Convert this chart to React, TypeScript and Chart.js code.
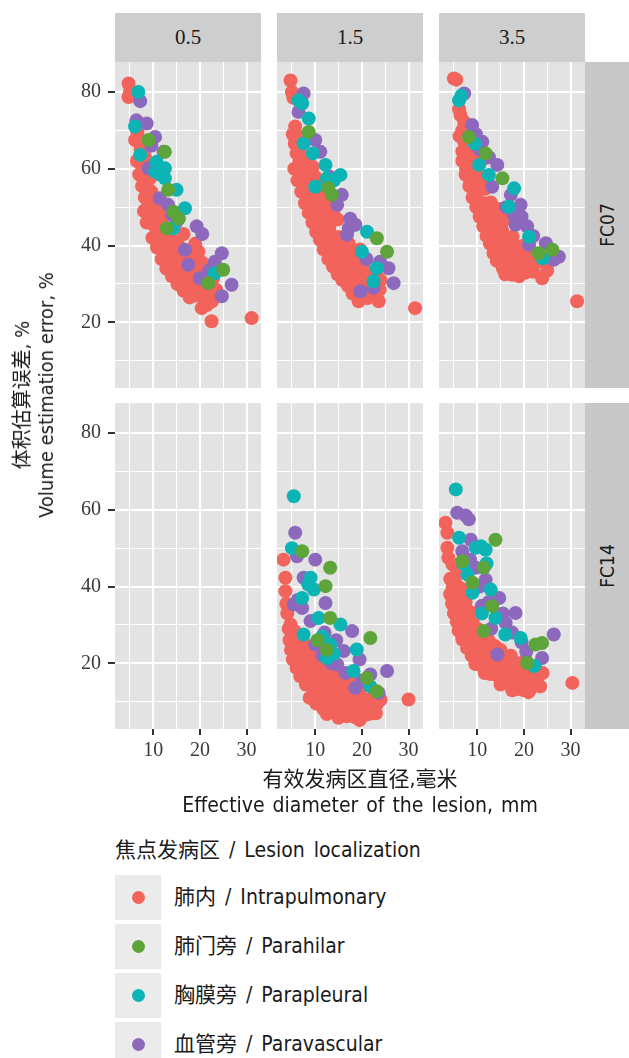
import React, { useEffect, useRef } from 'react';
import { Chart, registerables } from 'chart.js';

Chart.register(...registerables);

// ---------- labels / categories ----------
const CATEGORY_LABELS = ['肺内 / Intrapulmonary', '肺门旁 / Parahilar', '胸膜旁 / Parapleural', '血管旁 / Paravascular'];
const COLUMN_LABELS = ['0.5', '1.5', '3.5'];
const ROW_LABELS = ['FC07', 'FC14'];
const LEGEND_TITLE = '焦点发病区 / Lesion localization';
const X_TITLE = ['有效发病区直径,毫米', 'Effective diameter of the lesion, mm'];
const Y_TITLE = ['体积估算误差, %', 'Volume estimation error, %'];

// ---------- ticks ----------
const X_TICKS = [5, 10, 15, 20, 25, 30];
const X_LABELED = [10, 20, 30];
const Y_TICKS = [10, 20, 30, 40, 50, 60, 70, 80];
const Y_LABELED = [20, 40, 60, 80];
const X_MIN = 1.8;
const X_MAX = 33.1;
const Y_MIN = 2.9;
const Y_MAX = 87.8;

// ---------- data: FC07, 0.5 ----------
const FC07_05_INTRA = [
  [4.7, 82.2], [5.0, 80.0], [4.7, 78.7], [5.5, 79.5], [6.4, 71.8], [6.1, 67.5], [7.2, 67.5], [6.6, 69.5],
  [6.5, 62], [7.5, 61], [8.6, 61.5], [7, 58.5], [8.2, 58], [9.3, 57.5], [7.6, 55.5], [8.8, 55], [9.6, 54], [8.2, 63.1],
  [8.2, 52.5], [9.4, 52], [10.6, 51.5], [8.8, 50], [10, 49.5], [11.2, 49], [9.3, 47.5], [10.5, 47], [11.8, 46.5],
  [9.9, 45.5], [11.2, 45], [12.6, 44.5],
  [10.8, 43.5], [12, 43], [13.3, 42.8], [11.3, 41.5], [12.6, 41], [14, 40.8], [15.2, 41], [12, 39.5], [13.4, 39],
  [14.8, 38.8], [16.2, 39], [13, 37.5], [14.4, 37], [15.8, 36.8], [17.2, 37], [18.5, 37.5], [19.7, 38.4],
  [14.5, 35], [16, 34.5], [17.5, 34], [18.9, 34.5], [15.5, 33], [17, 32.5], [18.5, 32], [20, 32.5], [16.8, 31],
  [18.3, 30.5], [19.8, 30], [21.2, 31], [18, 29], [19.5, 28.5], [21, 28], [22.4, 29],
  [19, 27], [20.5, 26.5], [21.8, 26], [20.4, 23.7], [21.5, 24.5], [22.6, 25.5], [22.5, 20.3], [31.1, 21.1],
  [7.3, 65], [8, 49], [8.6, 46], [9.8, 42], [10.8, 39.5], [11.8, 36.5], [12.8, 34], [14, 32], [15.2, 30],
  [16.5, 28.2], [17.8, 26.5], [22.8, 31.5], [23.5, 28.5], [22.8, 27], [16.5, 43], [20.5, 35.5], [19, 40.5]
];
const FC07_05_HILAR = [[9, 67.5], [12.5, 64.4], [13.2, 54.5], [14.3, 48.8], [12.9, 44.5], [25, 33.7], [21.8, 30.2], [15.5, 47]];
const FC07_05_PLEURAL = [
  [6.8, 80], [6.1, 71], [7.2, 63.6], [10.7, 61.8], [12.5, 60.1], [10.4, 59.2], [12.5, 57.5], [15, 54.5],
  [16.8, 49.7], [14.3, 44.5], [23.2, 32.8], [11.5, 58.5]
];
const FC07_05_VASC = [
  [7.2, 77.6], [6.4, 72.6], [8.6, 71.8], [10.4, 68.3], [12.2, 64.4], [9, 60.1], [11.4, 52.3], [13.2, 50.6],
  [15, 46.2], [19.3, 45], [16.8, 38.9], [17.5, 35], [24.7, 38], [23.2, 35.8], [20, 31.5], [26.8, 29.8],
  [24.7, 26.8], [9.6, 66], [14, 48], [20.5, 43], [22, 33.5]
];

// ---------- data: FC07, 1.5 ----------
const FC07_15_INTRA = [
  [4.7, 83], [5, 80], [5.3, 78.5], [5.7, 71], [5.2, 69], [6.3, 68.5], [5.6, 66.5], [6.8, 66], [6, 64], [7.2, 63.5],
  [8.2, 63], [6.6, 62],
  [7, 60.5], [8.3, 60], [9.5, 60.5], [7.6, 58], [8.8, 57.5], [10, 57.8], [8.2, 55.5], [9.4, 55], [10.8, 55.5],
  [8.8, 53.5], [10.2, 53], [11.5, 53.5],
  [9.4, 51.5], [10.8, 51], [12.2, 51.5], [10, 49], [11.4, 48.5], [12.8, 48.8], [14, 49.5], [10.6, 46.5], [12, 46],
  [13.4, 46.2], [14.8, 46.8], [11.5, 44.5], [13, 44],
  [12, 42.5], [13.5, 42], [15, 42.2], [12.7, 40.3], [14.2, 40], [15.7, 40], [17.2, 40.5], [13.6, 38.3], [15.2, 38],
  [16.7, 37.8], [18.2, 38.2], [19.6, 39], [14.6, 36.3], [16.2, 36], [17.8, 35.8], [19.3, 36.2],
  [16, 34], [17.5, 33.8], [19, 33.6], [20.5, 34], [17, 32], [18.5, 31.6], [20, 31.5], [21.5, 32], [23, 32.5],
  [18, 30], [19.5, 29.5], [21, 29.5], [22.5, 30], [24, 31], [19, 28], [20.7, 27.6], [22.3, 27.8], [23.8, 28.5],
  [19.3, 25.5], [23.6, 25.5], [21.2, 26.3], [31.4, 23.7],
  [5.5, 60], [6.2, 57], [7, 54], [7.8, 51], [8.6, 48.5], [9.4, 46], [10.2, 43.5], [11, 41.5], [11.8, 39],
  [12.8, 36.5], [13.8, 34.5], [14.8, 32.5], [15.8, 31], [17, 29.5], [18, 27.5]
];
const FC07_15_HILAR = [[8.6, 69.6], [13.6, 53.2], [23.2, 41.9], [25.4, 38.4], [12.8, 55]];
const FC07_15_PLEURAL = [
  [6.4, 77.8], [7.2, 77], [8.6, 73.1], [7.5, 66.6], [12.2, 61], [15.4, 58.4], [12.5, 57.5], [10, 55.3], [14, 57],
  [21.1, 43.6], [20, 38.4], [23.2, 34.1], [22.5, 30.7], [9.5, 64]
];
const FC07_15_VASC = [
  [7.5, 79.6], [6.4, 74.8], [10, 67.5], [11.1, 64.4], [15.7, 53.2], [14.7, 50.6], [17.2, 44.5], [18.6, 45.4],
  [16.8, 42.8], [23.9, 35.8], [25.7, 34.1], [26.8, 30.2], [19.7, 28.1], [13, 58], [17.5, 47], [21, 36.5], [22.5, 29]
];

// ---------- data: FC07, 3.5 ----------
const FC07_35_INTRA = [
  [5, 83.5], [5.5, 83.2], [6.4, 74], [7.2, 72.2], [6.1, 75.5], [6.8, 70], [7.2, 67], [6.2, 68.5],
  [7.9, 69.5], [8.2, 65], [6.8, 64.5], [9.1, 63.5], [8.2, 61.8], [11.1, 62.3],
  [7.6, 60], [8.8, 59.5], [10, 59.8], [8.3, 57.5], [9.6, 57], [10.9, 57.2], [9, 55], [10.3, 54.5], [11.7, 54.8], [9.8, 53],
  [10.2, 51.5], [11.5, 51], [12.9, 51.2], [10.8, 49], [12.2, 48.6], [13.6, 48.8], [14.8, 49.5], [11.5, 46.7],
  [12.9, 46.2], [14.3, 46.2], [15.7, 46.6], [12.4, 44.3], [13.8, 44], [15.3, 44],
  [13.2, 42], [14.7, 41.8], [16.2, 41.8], [17.6, 42.3], [14, 39.8], [15.5, 39.5], [17, 39.4], [18.5, 39.6], [20, 40],
  [15, 37.5], [16.6, 37.2], [18.1, 37], [19.6, 37.2], [21, 37.6], [22.3, 38],
  [16.3, 35.2], [17.8, 35], [19.3, 34.8], [20.8, 35], [22.3, 35.3], [23.7, 36], [17.5, 32.4], [19, 32], [20.5, 33],
  [22, 33.2], [23.9, 31.5], [25, 33.5], [31.4, 25.5],
  [6.8, 62], [7.5, 58.5], [8.3, 55.5], [9, 52.5], [9.8, 50], [10.5, 47.5], [11.3, 45], [12, 42.5], [12.7, 40.5],
  [13.5, 38], [14.2, 36], [15.5, 34], [16, 32.5]
];
const FC07_35_HILAR = [[8.2, 68.3], [15.4, 57.5], [23.2, 38], [26.1, 38.9], [11.8, 64]];
const FC07_35_PLEURAL = [
  [6.1, 77.8], [6.6, 79], [10.4, 61], [12.5, 58.4], [17.9, 54.9], [16.8, 50.1], [21.1, 42.3], [24, 36.7], [9.5, 66.5]
];
const FC07_35_VASC = [
  [7.2, 79.6], [8.9, 71.4], [11.1, 67], [9.7, 69], [10.5, 65], [14.3, 61], [13.2, 55.3], [17.2, 53.2], [19.3, 50.6],
  [18.2, 45.4], [20.7, 45], [21.1, 40.2], [24.7, 40.6], [27.5, 37.1], [26.4, 36.3], [12.5, 63], [16.2, 50],
  [19.5, 47.5], [22, 42.5], [17.8, 48]
];

// ---------- data: FC14, 1.5 ----------
const FC14_15_INTRA = [
  [3.2, 47], [3.6, 42.3], [3.6, 38.8], [4.7, 30.1], [5, 27.5],
  [4.5, 26], [5.6, 25.5], [6.8, 25], [4.8, 23.5], [6, 23], [7.2, 22.5], [8.4, 22.2], [5.2, 21], [6.4, 20.6],
  [7.6, 20.3], [8.8, 20], [9.8, 20.8],
  [6, 18.8], [7.2, 18.5], [8.4, 18.2], [9.6, 18], [10.8, 17.8], [6.8, 16.6], [8, 16.3], [9.2, 16], [10.4, 15.8],
  [11.6, 15.6], [12.8, 15.5], [14, 15.8], [8, 14.5], [9.2, 14.2], [10.4, 14], [11.6, 13.8], [12.8, 13.6], [14, 13.5],
  [15.3, 13.6], [16.6, 14], [17.5, 15],
  [9.8, 12.4], [11, 12], [12.2, 11.8], [13.4, 11.5], [14.6, 11.4], [15.8, 11.4], [17, 11.6], [18.2, 12], [19.4, 12.5],
  [11.6, 10.2], [12.8, 9.8], [14, 9.5], [15.2, 9.3], [16.4, 9.4], [17.6, 9.6], [18.8, 9.8], [20, 10], [21.2, 10.5],
  [22.4, 11.2], [13.6, 7.8], [14.8, 7.4], [16, 7.2], [17.2, 7.3], [18.4, 7.6], [19.6, 7.9], [20.8, 8.2], [22, 8.7],
  [23.2, 9.4], [16.8, 6.2], [18.5, 6], [20.5, 6.5], [30, 10.6],
  [4, 33], [4.3, 29], [5.5, 28.5], [6.5, 27], [7.8, 25], [9, 23.5], [10.5, 22], [3.8, 35.5], [11, 19.5], [12.5, 18],
  [14, 17.5], [15.5, 16], [8.8, 11], [10.2, 9.5], [11.8, 8], [12.5, 6.8], [21.5, 6.8], [23, 7], [24, 10.5],
  [19.5, 5.2], [15, 5.8]
];
const FC14_15_HILAR = [
  [7.2, 49.2], [13.2, 44.9], [12.2, 40.1], [13.2, 31.8], [21.8, 26.6], [21.1, 16.2], [23.2, 12.7], [10.5, 26], [12.5, 23.5]
];
const FC14_15_PLEURAL = [
  [5.4, 63.5], [5, 50], [9, 42.3], [9.7, 39.2], [7.2, 37], [8.5, 40.5], [10.7, 31.8], [15.4, 30.1], [7.5, 27.5],
  [13.2, 24.9], [18.9, 23.6], [12.5, 21.4], [18.2, 18], [21.8, 14], [11.5, 27], [14, 22.5]
];
const FC14_15_VASC = [
  [5.7, 54], [6.1, 47.9], [10, 47], [7.5, 42.3], [5.4, 35.3], [7.2, 34.4], [6.2, 36.5], [12.2, 35.7], [9, 31],
  [17.9, 28.4], [10, 24.9], [16.1, 23.2], [14.7, 19.7], [25.4, 18], [21.8, 17.1], [18.6, 13.6], [23.6, 12.3],
  [12, 28], [14.5, 26], [11.5, 22], [19.5, 21], [16.5, 17.5], [13.5, 20], [20, 15.5]
];

// ---------- data: FC14, 3.5 ----------
const FC14_35_INTRA = [
  [3.2, 56.6], [3.6, 54], [3.6, 50.1], [4.7, 45.7], [4.7, 39.7],
  [4.2, 38], [5.4, 37.5], [6.4, 37], [4.6, 35.5], [5.8, 35], [7, 34.6], [5, 33], [6.2, 32.5], [7.4, 32.2], [8.2, 33.5],
  [5.6, 30.8], [6.8, 30.4], [8, 30], [6, 28.5], [7.2, 28], [8.4, 27.8], [9.6, 27.5], [6.8, 26.2], [8, 25.8],
  [9.2, 25.5], [10.4, 25.3], [11.6, 25.5], [7.8, 24], [9, 23.6], [10.2, 23.3], [11.4, 23.2], [12.6, 23.4],
  [8.8, 22], [10, 21.5], [11.2, 21.2], [12.4, 21], [13.6, 21], [14.8, 21.2], [16, 21.5], [17.2, 22], [9.6, 19.8],
  [10.8, 19.4], [12, 19.1], [13.2, 18.9], [14.4, 18.8], [15.6, 18.9], [16.8, 19.2], [18, 19.6], [19.2, 20],
  [20.4, 20.8], [11.6, 17.5], [12.8, 17.2], [14, 17], [15.2, 16.8], [16.4, 16.8], [17.6, 17], [18.8, 17.4],
  [20, 17.8], [21.2, 18.4], [22.4, 19],
  [16, 15.2], [17.2, 14.8], [18.4, 14.6], [19.6, 14.6], [20.8, 15], [22, 15.5], [23, 16.5], [18.5, 13.3], [20, 13],
  [21.5, 13.5], [30.4, 14.9],
  [4.2, 42], [5.5, 40.5], [6.5, 39.5], [3.8, 47.5], [5.5, 43], [7.5, 36], [9, 31], [10, 29], [11, 27], [12.5, 25.8],
  [13.8, 24.5], [15, 23.5], [24, 17.5], [23.5, 14], [21, 12.5], [17.5, 13], [15, 14.5], [9.5, 33]
];
const FC14_35_HILAR = [
  [13.9, 52.2], [6.8, 46.6], [11.4, 44.9], [13.2, 34.9], [11.4, 28.4], [22.5, 24.9], [23.9, 25.3], [20.7, 20.1], [9, 41]
];
const FC14_35_PLEURAL = [
  [5.4, 65.3], [6.1, 52.7], [9.7, 50.1], [11.8, 49.6], [10.8, 50.5], [7.9, 43.1], [9, 38.4], [12.9, 39.2],
  [13.9, 31.8], [19.3, 26.6], [22.2, 19.3], [7, 46], [11, 33], [16, 27.5], [12, 46]
];
const FC14_35_VASC = [
  [5.7, 59.2], [8.2, 57.5], [7.5, 58.5], [8.6, 52.2], [6.8, 49.2], [9.7, 44.9], [11.8, 41.8], [14.7, 37],
  [18.2, 33.1], [16.1, 30.5], [26.4, 27.5], [23.9, 21.4], [14.3, 22.3], [10.5, 40], [12.5, 36], [15.5, 33],
  [17.5, 28], [19.5, 25.5], [13, 29], [20.5, 23], [8.5, 47], [11, 35]
];

// ---------- styling / layout ----------
const CATEGORY_COLORS = ['#F2635B', '#5DA43B', '#0CB4B6', '#8D69BD'];
const DRAW_ORDER = [4, 1, 2, 3];
const COL_LEFT = [115, 277, 439];
const ROW_TOP = [62, 403];
const PANEL_W = 146;
const PANEL_H = 326;
const Y_AXIS_W = 60;
const X_AXIS_H = 40;
const POINT_R = 7;
const PANEL_BG = '#E3E3E3';
const STRIP_BG = '#CECECE';
const STRIP_BG_RIGHT = '#C8C8C8';
const SERIF = "'Liberation Serif', 'DejaVu Serif', serif";
const NARROW = "'Liberation Sans Narrow', 'DejaVu Sans Condensed', 'Noto Sans CJK SC', sans-serif";

type Pt = number[];

const panelBgPlugin = {
  id: 'panelBg',
  beforeDraw(chart: any) {
    const { ctx, chartArea } = chart;
    ctx.save();
    ctx.fillStyle = PANEL_BG;
    ctx.fillRect(chartArea.left, chartArea.top, chartArea.right - chartArea.left, chartArea.bottom - chartArea.top);
    ctx.restore();
  }
};

function zeroPadding(s: any) {
  s.paddingTop = 0;
  s.paddingBottom = 0;
  s.paddingLeft = 0;
  s.paddingRight = 0;
}

function Panel({ left, top, showY, showX, series }: { left: number; top: number; showY: boolean; showX: boolean; series: Pt[][] }) {
  const ref = useRef<HTMLCanvasElement>(null);
  const padL = showY ? Y_AXIS_W : 0;
  const padB = showX ? X_AXIS_H : 0;
  const w = PANEL_W + padL;
  const h = PANEL_H + padB;

  useEffect(() => {
    const tickFont = { family: SERIF, size: 20 };
    const chart = new Chart(ref.current as HTMLCanvasElement, {
      type: 'scatter',
      data: {
        datasets: series.map((pts, i) => ({
          label: CATEGORY_LABELS[i],
          data: pts.map(([x, y]) => ({ x, y })),
          backgroundColor: CATEGORY_COLORS[i],
          borderWidth: 0,
          pointRadius: POINT_R,
          pointHoverRadius: POINT_R,
          order: DRAW_ORDER[i],
          clip: false
        }))
      },
      options: {
        responsive: false,
        animation: false,
        events: [],
        layout: { padding: 0, autoPadding: false },
        plugins: { legend: { display: false }, tooltip: { enabled: false } },
        scales: {
          x: {
            type: 'linear',
            min: X_MIN,
            max: X_MAX,
            afterBuildTicks: (s: any) => { s.ticks = X_TICKS.map((v) => ({ value: v })); },
            afterFit: (s: any) => { s.height = showX ? X_AXIS_H : 0; zeroPadding(s); },
            border: { display: false },
            grid: {
              color: '#FFFFFF',
              lineWidth: (c: any) => (X_LABELED.includes(c.tick?.value) ? 2 : 1),
              drawTicks: showX,
              tickLength: 6,
              tickWidth: 2,
              tickColor: (c: any) => (X_LABELED.includes(c.tick?.value) ? '#333333' : 'rgba(0,0,0,0)')
            },
            ticks: {
              display: showX,
              autoSkip: false,
              maxRotation: 0,
              padding: 4,
              font: tickFont,
              color: '#3A3A3A',
              callback: (v: any) => (X_LABELED.includes(v) ? String(v) : '')
            }
          },
          y: {
            type: 'linear',
            min: Y_MIN,
            max: Y_MAX,
            afterBuildTicks: (s: any) => { s.ticks = Y_TICKS.map((v) => ({ value: v })); },
            afterFit: (s: any) => { s.width = showY ? Y_AXIS_W : 0; zeroPadding(s); },
            border: { display: false },
            grid: {
              color: '#FFFFFF',
              lineWidth: (c: any) => (Y_LABELED.includes(c.tick?.value) ? 2 : 1),
              drawTicks: showY,
              tickLength: 7,
              tickWidth: 2,
              tickColor: (c: any) => (Y_LABELED.includes(c.tick?.value) ? '#333333' : 'rgba(0,0,0,0)')
            },
            ticks: {
              display: showY,
              autoSkip: false,
              padding: 7,
              font: tickFont,
              color: '#3A3A3A',
              callback: (v: any) => (Y_LABELED.includes(v) ? String(v) : '')
            }
          }
        }
      } as any,
      plugins: [panelBgPlugin]
    });
    return () => chart.destroy();
  }, []);

  return (
    <canvas
      ref={ref}
      width={w}
      height={h}
      style={{ position: 'absolute', left: left - padL, top, width: w, height: h }}
    />
  );
}

const PANELS: { row: number; col: number; series: Pt[][] }[] = [
  { row: 0, col: 0, series: [FC07_05_INTRA, FC07_05_HILAR, FC07_05_PLEURAL, FC07_05_VASC] },
  { row: 0, col: 1, series: [FC07_15_INTRA, FC07_15_HILAR, FC07_15_PLEURAL, FC07_15_VASC] },
  { row: 0, col: 2, series: [FC07_35_INTRA, FC07_35_HILAR, FC07_35_PLEURAL, FC07_35_VASC] },
  { row: 1, col: 0, series: [[], [], [], []] },
  { row: 1, col: 1, series: [FC14_15_INTRA, FC14_15_HILAR, FC14_15_PLEURAL, FC14_15_VASC] },
  { row: 1, col: 2, series: [FC14_35_INTRA, FC14_35_HILAR, FC14_35_PLEURAL, FC14_35_VASC] }
];

export default function App() {
  return (
    <div style={{ position: 'absolute', left: 0, top: 0, width: 629, height: 1058, background: '#FFFFFF', overflow: 'hidden', color: '#1A1A1A' }}>
      {COLUMN_LABELS.map((lab, c) => (
        <div key={'cs' + c} style={{
          position: 'absolute', left: COL_LEFT[c], top: 13, width: PANEL_W, height: 49, background: STRIP_BG,
          display: 'flex', alignItems: 'center', justifyContent: 'center', fontFamily: SERIF, fontSize: 21, color: '#1A1A1A'
        }}>{lab}</div>
      ))}
      {ROW_LABELS.map((lab, r) => (
        <div key={'rs' + r} style={{
          position: 'absolute', left: COL_LEFT[2] + PANEL_W, top: ROW_TOP[r], width: 44, height: PANEL_H, background: STRIP_BG_RIGHT
        }}>
          <div style={{
            position: 'absolute', left: '50%', top: '50%', transform: 'translate(-50%, -50%) rotate(-90deg)',
            fontFamily: NARROW, fontSize: 19, whiteSpace: 'nowrap', color: '#1A1A1A'
          }}>{lab}</div>
        </div>
      ))}
      {PANELS.map((p, i) => (
        <Panel key={i} left={COL_LEFT[p.col]} top={ROW_TOP[p.row]} showY={p.col === 0} showX={p.row === 1} series={p.series} />
      ))}
      <div style={{
        position: 'absolute', left: 34, top: 395, transform: 'translate(-50%, -50%) rotate(-90deg)',
        fontFamily: NARROW, fontSize: 20, lineHeight: '24px', textAlign: 'center', whiteSpace: 'nowrap', color: '#1A1A1A'
      }}>
        <div>{Y_TITLE[0]}</div>
        <div>{Y_TITLE[1]}</div>
      </div>
      <div style={{
        position: 'absolute', left: 360, top: 766, transform: 'translateX(-50%)',
        fontFamily: NARROW, fontSize: 21, lineHeight: '26px', textAlign: 'center', whiteSpace: 'nowrap', color: '#1A1A1A'
      }}>
        <div>{X_TITLE[0]}</div>
        <div style={{ wordSpacing: 2 }}>{X_TITLE[1]}</div>
      </div>
      <div style={{
        position: 'absolute', left: 115, top: 837, fontFamily: NARROW, fontSize: 21, lineHeight: '26px', whiteSpace: 'nowrap', wordSpacing: 3, color: '#1A1A1A'
      }}>{LEGEND_TITLE}</div>
      {CATEGORY_LABELS.map((lab, i) => (
        <React.Fragment key={'lg' + i}>
          <div style={{ position: 'absolute', left: 115, top: 875 + i * 49, width: 46, height: 45, background: '#EBEBEB' }}>
            <div style={{ position: 'absolute', left: 23 - 6.5, top: 22.5 - 6.5, width: 13, height: 13, borderRadius: '50%', background: CATEGORY_COLORS[i] }} />
          </div>
          <div style={{
            position: 'absolute', left: 174, top: 875 + i * 49, height: 45, lineHeight: '45px',
            fontFamily: NARROW, fontSize: 21, whiteSpace: 'nowrap', wordSpacing: 3, color: '#1A1A1A'
          }}>{lab}</div>
        </React.Fragment>
      ))}
    </div>
  );
}
